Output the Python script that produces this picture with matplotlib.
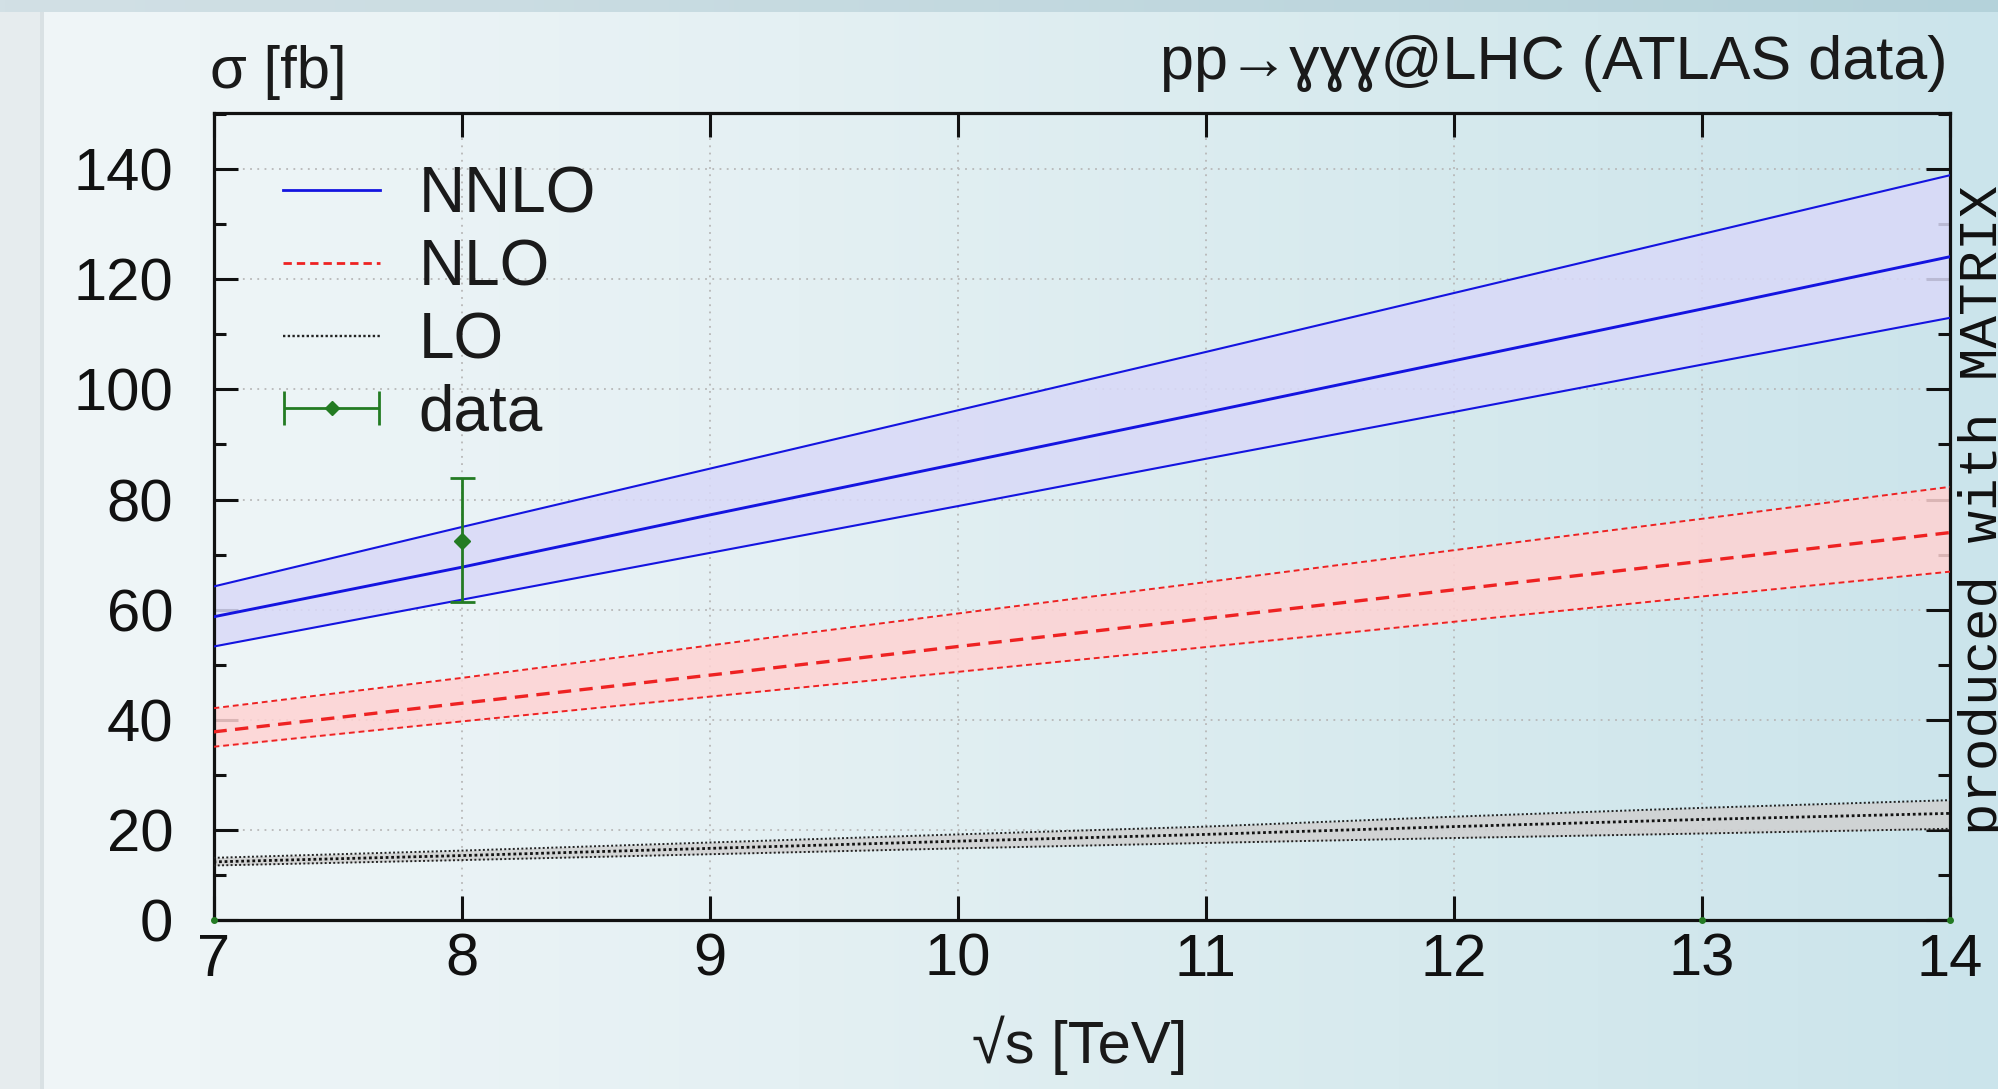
import numpy as np
import matplotlib
matplotlib.use("Agg")
import matplotlib.pyplot as plt
from matplotlib.lines import Line2D
from matplotlib.container import ErrorbarContainer
from matplotlib.legend_handler import HandlerErrorbar

# values
sqrt_s = [7, 8, 9, 10, 11, 12, 13, 14]

nnlo = [58.7, 67.7, 77.2, 86.5, 95.8, 105.2, 114.6, 124.1]
nnlo_up = [64.2, 75.0, 85.6, 96.2, 106.8, 117.5, 128.2, 138.9]
nnlo_dn = [53.3, 61.8, 70.3, 78.8, 87.4, 95.9, 104.5, 113.0]

nlo = [37.8, 43.0, 48.1, 53.3, 58.4, 63.6, 68.8, 74.0]
nlo_up = [42.1, 47.6, 53.5, 59.3, 65.0, 70.8, 76.5, 82.3]
nlo_dn = [35.1, 39.7, 44.2, 48.7, 53.2, 57.8, 62.4, 66.9]

lo = [12.9, 14.3, 15.9, 17.5, 19.0, 20.6, 21.9, 23.0]
lo_up = [13.8, 15.4, 17.2, 19.0, 20.6, 22.4, 24.0, 25.4]
lo_dn = [12.1, 13.3, 14.6, 15.9, 17.1, 18.2, 19.2, 20.2]

data_x = [7, 8, 13, 14]
data_y = [0, 72.5, 0, 0]
data_lo = [0, 11.1, 0, 0]
data_hi = [0, 11.5, 0, 0]

y_ticks = [0, 20, 40, 60, 80, 100, 120, 140]
x_ticks = [7, 8, 9, 10, 11, 12, 13, 14]

plt.rcParams['font.family'] = ['Liberation Sans', 'DejaVu Sans']
plt.rcParams['text.color'] = '#1a1a1a'
plt.rcParams['xtick.color'] = '#111111'
plt.rcParams['ytick.color'] = '#111111'

W, H = 1998, 1089
fig = plt.figure(figsize=(W / 100, H / 100), dpi=100)

# slide background
bg = fig.add_axes([0, 0, 1, 1], zorder=-10)
bg.axis('off')
xs = np.linspace(0, 1, 400)
stops = [0.0, 0.1, 0.4, 0.7, 1.0]
img = np.zeros((2, 400, 3))
img[:, :, 0] = np.interp(xs, stops, [240, 238, 228, 215, 203])
img[:, :, 1] = np.interp(xs, stops, [246, 245, 240, 234, 228])
img[:, :, 2] = np.interp(xs, stops, [248, 247, 243, 238, 235])
bg.imshow(img / 255, extent=[0, 1, 0, 1], aspect='auto')
top = np.zeros((1, 400, 3))
top[0, :, 0] = np.interp(xs, [0, 1], [210, 180])
top[0, :, 1] = np.interp(xs, [0, 1], [224, 210])
top[0, :, 2] = np.interp(xs, [0, 1], [229, 218])
bg.imshow(top / 255, extent=[0, 1, 1 - 12 / H, 1], aspect='auto')
bg.add_patch(plt.Rectangle((0, 0), 44 / W, 1 - 12 / H, color='#e6ecee', lw=0))
bg.add_patch(plt.Rectangle((40 / W, 0), 4 / W, 1 - 12 / H, color='#d9e1e4', lw=0))
bg.set_xlim(0, 1)
bg.set_ylim(0, 1)

# axis box
x0, x1, y0, y1 = 213.5, 1950, 920, 113
ax = fig.add_axes([x0 / W, 1 - y0 / H, (x1 - x0) / W, (y0 - y1) / H])
ax.patch.set_alpha(0)

# the reference squeezes the 0-20 strip
K = 90 / 110


def fwd(y):
    y = np.asarray(y, float)
    return np.where(y >= 20, y, 20 - (20 - y) * K)


def inv(t):
    t = np.asarray(t, float)
    return np.where(t >= 20, t, 20 - (20 - t) / K)


ax.set_yscale('function', functions=(fwd, inv))

blue = '#1414e0'
red = '#ee2222'
green = '#237b23'

ax.fill_between(sqrt_s, nnlo_dn, nnlo_up, color='#d9d9f8', alpha=0.85, lw=0, zorder=1)
ax.fill_between(sqrt_s, nlo_dn, nlo_up, color='#ffd3d3', alpha=0.85, lw=0, zorder=1)
ax.fill_between(sqrt_s, lo_dn, lo_up, color='#d0d0d0', alpha=0.85, lw=0, zorder=1)

ax.plot(sqrt_s, nnlo_up, color=blue, lw=1.5, zorder=3)
ax.plot(sqrt_s, nnlo_dn, color=blue, lw=1.5, zorder=3)
ax.plot(sqrt_s, nnlo, color=blue, lw=2.1, zorder=3)

ax.plot(sqrt_s, nlo_up, color=red, lw=1.4, dashes=(3, 2), zorder=3)
ax.plot(sqrt_s, nlo_dn, color=red, lw=1.4, dashes=(3, 2), zorder=3)
ax.plot(sqrt_s, nlo, color=red, lw=2.4, dashes=(4, 2.5), zorder=3)

ax.plot(sqrt_s, lo_up, color='#222222', lw=1.4, dashes=(1, 1.2), zorder=3)
ax.plot(sqrt_s, lo_dn, color='#222222', lw=1.4, dashes=(1, 1.2), zorder=3)
ax.plot(sqrt_s, lo, color='#111111', lw=2.0, dashes=(1, 1), zorder=3)

has_err = [e > 0 for e in data_hi]
ex = [x for x, m in zip(data_x, has_err) if m]
ey = [y for y, m in zip(data_y, has_err) if m]
elo = [e for e, m in zip(data_lo, has_err) if m]
ehi = [e for e, m in zip(data_hi, has_err) if m]
ax.errorbar(ex, ey, yerr=[elo, ehi], fmt='D', color=green, ms=8, capsize=9,
            elinewidth=2.0, capthick=2.0, zorder=4)
zx = [x for x, m in zip(data_x, has_err) if not m]
zy = [y for y, m in zip(data_y, has_err) if not m]
ax.plot(zx, zy, 'o', color=green, ms=4, clip_on=False, zorder=5)

ax.set_xlim(7, 14)
ax.set_ylim(0, 150.2)
ax.set_xticks(x_ticks)
ax.set_xticklabels([str(t) for t in x_ticks])
ax.set_yticks(y_ticks)
ax.set_yticklabels([str(t) for t in y_ticks])
ax.set_yticks([t + 10 for t in y_ticks], minor=True)
ax.xaxis.set_minor_locator(plt.NullLocator())

ax.set_axisbelow(True)
ax.grid(which='major', ls=(0, (1, 3)), color='#b8b8b8', lw=1.3)

ax.tick_params(which='both', direction='in', top=True, right=True, width=2.2)
ax.tick_params(which='major', length=17, labelsize=43)
ax.tick_params(which='minor', length=8.5)
ax.tick_params(axis='y', pad=29)
ax.tick_params(axis='x', pad=9)
for s in ax.spines.values():
    s.set_linewidth(2.3)
    s.set_color('#111111')

# legend in gnuplot style
h_nnlo = Line2D([], [], color=blue, lw=2.0)
h_nlo = Line2D([], [], color=red, lw=2.0, dashes=(3, 1.8))
h_lo = Line2D([], [], color='#222222', lw=1.7, dashes=(1, 1))
h_data = ax.errorbar([np.nan], [np.nan], xerr=[1], fmt='D', color=green, ms=7,
                     capsize=12, elinewidth=2.0, capthick=2.0)
ax.legend([h_nnlo, h_nlo, h_lo, h_data], ['NNLO', 'NLO', 'LO', 'data'],
          loc='upper left', bbox_to_anchor=(0.040, 0.935), frameon=False,
          fontsize=46, handlelength=1.52, handletextpad=0.6, labelspacing=0.2,
          borderpad=0, borderaxespad=0,
          handler_map={ErrorbarContainer: HandlerErrorbar(xerr_size=0.74)})

fig.text(210 / W, 1 - 72 / H, 'σ [fb]', ha='left', va='center', fontsize=43)
fig.text(1947 / W, 1 - 64 / H, 'pp→ɣɣɣ@LHC (ATLAS data)', ha='right', va='center', fontsize=44)
fig.text(1080 / W, 1 - 1045 / H, '√s [TeV]', ha='center', va='center', fontsize=43)
fig.text(1958 / W, 1 - 510 / H, 'produced with MATRIX', rotation=90, ha='left',
         va='center', family=['Liberation Mono', 'DejaVu Sans Mono'], fontsize=39,
         color='#111111')

fig.savefig('out.png', dpi=100)
